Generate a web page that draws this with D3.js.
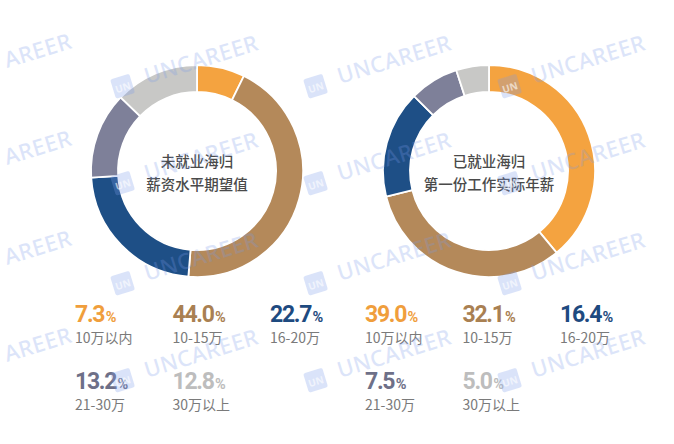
<!DOCTYPE html>
<html><head><meta charset="utf-8">
<script src="https://cdn.jsdelivr.net/npm/d3@7"></script>
<style>
html,body{margin:0;padding:0;background:#fff;}
svg{display:block;}
</style></head>
<body>
<svg id="chart" width="674" height="444"></svg>
<script>
// ---- data ----
const categories = ["10万以内", "10-15万", "16-20万", "21-30万", "30万以上"];
const expectedValues = [7.3, 44.0, 22.7, 13.2, 12.8];   // 未就业海归 薪资水平期望值
const actualValues   = [39.0, 32.1, 16.4, 7.5, 5.0];    // 已就业海归 第一份工作实际年薪
const centerTitles = [["未就业海归", "薪资水平期望值"], ["已就业海归", "第一份工作实际年薪"]];

// ---- styling ----
const segColors  = ["#F4A340", "#B4895A", "#1E4F86", "#7E8099", "#C8C8C6"];
const textColors = ["#F09E3C", "#A98052", "#1E4A80", "#6E7088", "#BDBDBD"];
const panels = [
  {values: expectedValues, cx: 197, cy: 171, legendX: 75,  title: centerTitles[0]},
  {values: actualValues,   cx: 489, cy: 171, legendX: 365, title: centerTitles[1]}
];
const outerR = 106, innerR = 79;

const svg = d3.select("#chart");
svg.append("rect").attr("width", 674).attr("height", 444).attr("fill", "#fff");

const pie = d3.pie().sort(null).value(d => d);
const arc = d3.arc().innerRadius(innerR).outerRadius(outerR);
const color = d3.scaleOrdinal().domain(categories).range(segColors);
const tcolor = d3.scaleOrdinal().domain(categories).range(textColors);

// legend layout via scales
const colScale = d3.scalePoint().domain([0, 1, 2]).range([0, 195]);
const rowScale = d3.scalePoint().domain([0, 1]).range([322, 389]);

panels.forEach(p => {
  const g = svg.append("g").attr("transform", `translate(${p.cx},${p.cy})`);
  const arcsData = pie(p.values).map((d, i) => Object.assign(d, {cat: categories[i]}));
  g.selectAll("path").data(arcsData).join("path")
    .attr("d", arc)
    .attr("fill", d => color(d.cat))
    .attr("stroke", "#fff")
    .attr("stroke-width", 1.8);

  g.append("text")
    .attr("text-anchor", "middle")
    .attr("font-family", "'Noto Sans CJK SC', 'Noto Sans', sans-serif")
    .attr("font-size", 14.5)
    .attr("font-weight", 500)
    .attr("fill", "#4a4a4a")
    .selectAll("tspan").data(p.title).join("tspan")
    .attr("x", 0)
    .attr("y", (d, i) => -4 + i * 23)
    .text(d => d);

  // legend
  const lg = svg.append("g").attr("transform", `translate(${p.legendX},0)`);
  const items = lg.selectAll("g.item").data(categories).join("g").attr("class", "item")
    .attr("transform", (d, i) => `translate(${colScale(i % 3)},${rowScale(Math.floor(i / 3))})`);
  const vt = items.append("text")
    .attr("font-family", "Roboto, 'Noto Sans', sans-serif")
    .attr("font-weight", 700)
    .attr("fill", d => tcolor(d));
  vt.append("tspan")
    .attr("font-size", 23)
    .attr("letter-spacing", -1.3)
    .text((d, i) => p.values[i].toFixed(1));
  vt.append("tspan")
    .attr("font-size", 14.5)
    .attr("dx", 1.5)
    .text("%");
  items.append("text")
    .attr("y", 21)
    .attr("font-family", "'Noto Sans CJK SC', 'Noto Sans', sans-serif")
    .attr("font-size", 14)
    .attr("fill", "#7a7a7a")
    .text(d => d);
});

// ---- watermark overlay ----
const wmCols = [7, 147, 340, 534];
const wmRows = [68, 165, 265, 362];
const wm = svg.append("g").attr("pointer-events", "none");
wmRows.forEach(y => wmCols.forEach((x, ci) => {
  const first = ci === 0;
  const w = wm.append("g").attr("transform", `translate(${x},${first ? y : y + 16}) rotate(-17)`);
  if (!first) {
    w.append("rect").attr("x", -34).attr("y", -15).attr("width", 20).attr("height", 20).attr("rx", 2)
      .attr("fill", "#7A9BEA").attr("opacity", 0.28);
    w.append("text").attr("x", -24).attr("y", 0).attr("text-anchor", "middle")
      .attr("font-family", "'Noto Sans', sans-serif").attr("font-size", 10).attr("font-weight", 700)
      .attr("fill", "#fff").attr("opacity", 0.6).text("UN");
  }
  w.append("text").attr("x", 0).attr("y", 0)
    .attr("font-family", "'Noto Sans', sans-serif").attr("font-size", 22).attr("font-weight", 500)
    .attr("letter-spacing", 0.5)
    .attr("fill", "#7A9BEA").attr("opacity", 0.26).text(first ? "AREER" : "UNCAREER");
}));
</script>
</body></html>
